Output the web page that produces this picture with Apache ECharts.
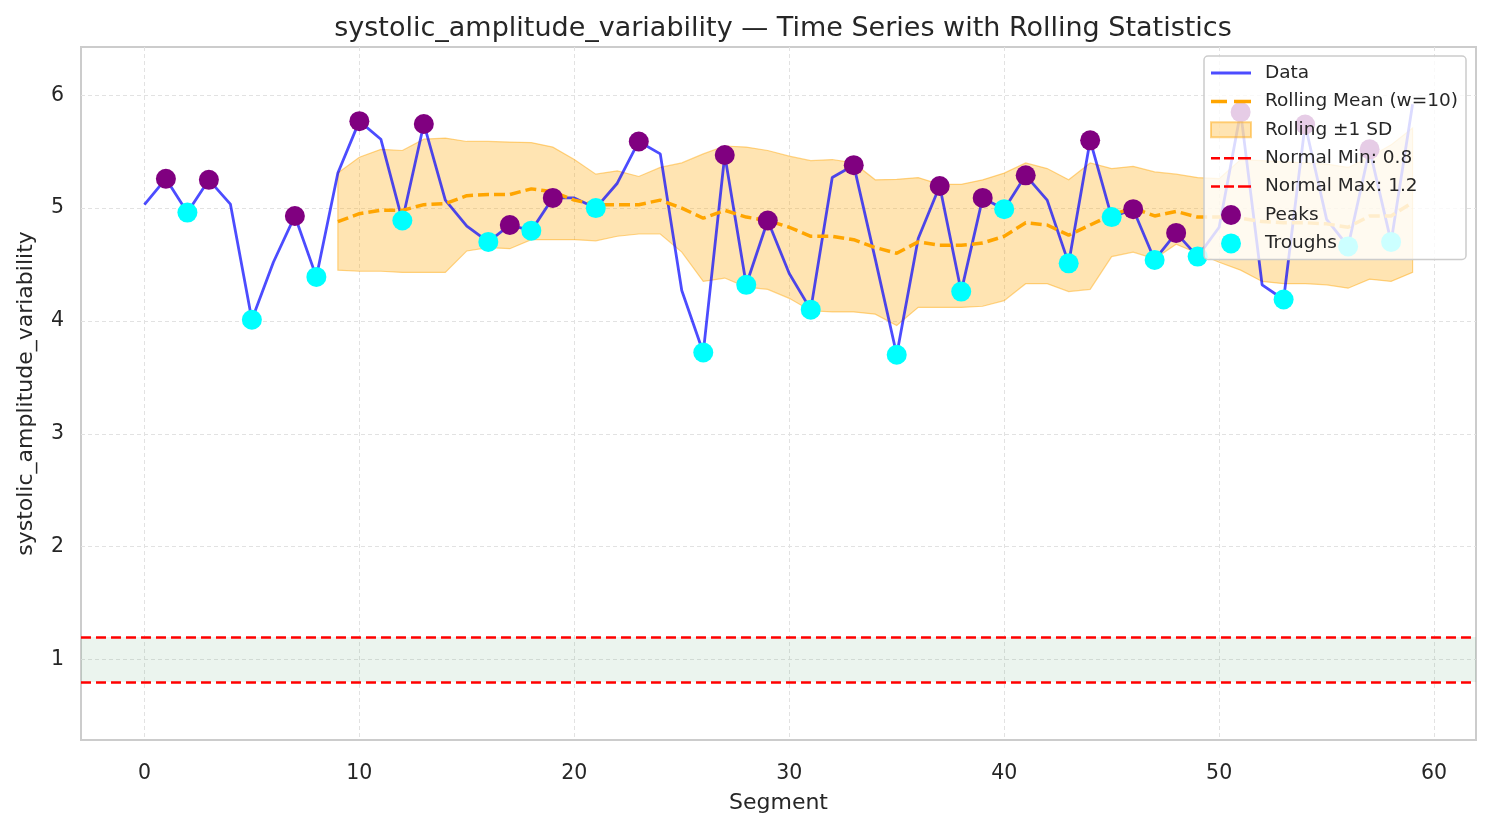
<!DOCTYPE html>
<html>
<head>
<meta charset="utf-8">
<title>systolic_amplitude_variability</title>
<script src="https://cdn.jsdelivr.net/npm/echarts@6/dist/echarts.min.js"></script>
<style>
  html, body { margin: 0; padding: 0; background: #fff; }
  #chart { width: 1490px; height: 829px; }
</style>
</head>
<body>
<div id="chart"></div>
<script>
// segment index and measured values
const segments = [0,1,2,3,4,5,6,7,8,9,10,11,12,13,14,15,16,17,18,19,20,21,22,23,24,25,26,27,28,29,
  30,31,32,33,34,35,36,37,38,39,40,41,42,43,44,45,46,47,48,49,50,51,52,53,54,55,56,57,58,59]
const values = [5.03,5.26,4.96,5.25,5.035,4.01,4.52,4.93,4.39,5.31,5.77,5.61,4.89,5.745,5.07,4.84,4.70,4.85,4.80,5.09,
  5.09,5.00,5.22,5.59,5.48,4.27,3.72,5.47,4.32,4.89,4.42,4.10,5.27,5.38,4.55,3.70,4.73,5.195,4.26,5.09,
  4.99,5.29,5.07,4.51,5.60,4.92,4.99,4.54,4.78,4.57,4.83,5.85,4.32,4.19,5.74,4.90,4.66,5.52,4.70,5.92]

// rolling stats (window 10) start at segment 9
const rollStart = 9
const rollMean = [4.88,4.95,4.98,4.98,5.03,5.04,5.11,5.12,5.12,5.17,5.145,5.07,5.03,5.03,5.03,5.07,5.00,4.91,4.98,4.92,
  4.89,4.83,4.75,4.75,4.72,4.65,4.60,4.70,4.67,4.67,4.69,4.75,4.87,4.85,4.76,4.85,4.94,5.00,4.93,4.97,
  4.92,4.92,4.91,4.88,4.87,4.87,4.86,4.83,4.93,4.93,5.05]
const rollUpper = [5.31,5.45,5.52,5.51,5.61,5.62,5.59,5.59,5.585,5.58,5.54,5.43,5.30,5.33,5.28,5.36,5.40,5.48,5.55,5.54,
  5.51,5.46,5.42,5.43,5.40,5.25,5.255,5.27,5.21,5.21,5.25,5.31,5.40,5.35,5.25,5.40,5.35,5.37,5.32,5.30,
  5.27,5.26,5.43,5.42,5.41,5.40,5.39,5.36,5.45,5.56,5.71]
const rollLower = [4.45,4.44,4.44,4.43,4.43,4.43,4.62,4.65,4.64,4.72,4.72,4.72,4.71,4.75,4.77,4.77,4.61,4.35,4.38,4.30,
  4.28,4.20,4.09,4.08,4.08,4.06,3.96,4.12,4.12,4.12,4.13,4.18,4.33,4.33,4.26,4.28,4.57,4.61,4.55,4.68,
  4.60,4.52,4.45,4.35,4.33,4.33,4.32,4.29,4.37,4.35,4.43]

const peakIdx = [1,3,7,10,13,17,19,23,27,29,33,37,39,41,44,46,48,51,54,57]
const troughIdx = [2,5,8,12,16,18,21,26,28,31,35,38,40,43,45,47,49,53,56,58]

const normalMin = 0.8
const normalMax = 1.2
const xTicks = [0,10,20,30,40,50,60]
const yTicks = [1,2,3,4,5,6]

const FONT = 'DejaVu Sans'
const TXT = '#262626'
const BAND_FILL = 'rgba(255,165,0,0.3)'
const BAND_EDGE = 'rgba(255,165,0,0.45)'

// legend glyphs
const ICON_LINE = 'path://M0 0H40V3H0Z'
const ICON_MEAN = 'path://M0 0H16V3.5H0Z M23 0H40V3.5H23Z'
const ICON_RED = 'path://M0 0H9V2.5H0Z M13 0H23V2.5H13Z M27 0H40V2.5H27Z'
const ICON_RECT = 'path://M0 0H40V15H0Z'

const dataPts = segments.map((s, i) => [s, values[i]])
const meanPts = rollMean.map((v, i) => [rollStart + i, v])
const bandPts = rollUpper.map((v, i) => [rollStart + i, v, rollLower[i]])
const peakPts = peakIdx.map(i => [segments[i], values[i]])
const troughPts = troughIdx.map(i => [segments[i], values[i]])

const chart = echarts.init(document.getElementById('chart'))

chart.setOption({
  backgroundColor: '#fff',
  animation: false,
  textStyle: { fontFamily: FONT },
  title: {
    text: 'systolic_amplitude_variability \u2014 Time Series with Rolling Statistics',
    left: 778,
    textAlign: 'center',
    top: 10,
    textStyle: { fontFamily: FONT, fontSize: 27, fontWeight: 'normal', color: TXT }
  },
  grid: {
    left: 81, right: 14, top: 47, bottom: 89,
    show: true, borderColor: '#cccccc', borderWidth: 2, backgroundColor: '#fff'
  },
  legend: {
    z: 10,
    orient: 'vertical',
    left: 1204,
    top: 56,
    padding: [7, 8, 6, 6],
    itemWidth: 40,
    itemHeight: 20,
    itemGap: 8.4,
    backgroundColor: 'rgba(255,255,255,0.8)',
    borderColor: '#cccccc',
    borderWidth: 1.5,
    borderRadius: 4,
    textStyle: { fontFamily: FONT, fontSize: 18.5, color: TXT, padding: [0, 0, 0, 9], lineHeight: 20 },
    data: [
      { name: 'Data', icon: ICON_LINE },
      { name: 'Rolling Mean (w=10)', icon: ICON_MEAN },
      { name: 'Rolling \u00b11 SD', icon: ICON_RECT },
      { name: 'Normal Min: 0.8', icon: ICON_RED },
      { name: 'Normal Max: 1.2', icon: ICON_RED },
      { name: 'Peaks', icon: 'circle' },
      { name: 'Troughs', icon: 'circle' }
    ]
  },
  xAxis: {
    type: 'value',
    min: -2.95,
    max: 61.95,
    name: 'Segment',
    nameLocation: 'middle',
    nameGap: 52,
    nameTextStyle: { fontFamily: FONT, fontSize: 22, color: TXT },
    axisLine: { show: false },
    axisTick: { show: false, customValues: xTicks },
    axisLabel: { customValues: xTicks, fontFamily: FONT, fontSize: 20.5, color: TXT, margin: 23 },
    splitLine: { show: true, lineStyle: { color: '#e2e2e2', width: 1, type: [4, 3] } }
  },
  yAxis: {
    type: 'value',
    min: 0.287,
    max: 6.427,
    name: 'systolic_amplitude_variability',
    nameLocation: 'middle',
    nameGap: 44,
    nameTextStyle: { fontFamily: FONT, fontSize: 22, color: TXT },
    axisLine: { show: false },
    axisTick: { show: false, customValues: yTicks },
    axisLabel: { customValues: yTicks, fontFamily: FONT, fontSize: 20.5, color: TXT, margin: 17 },
    splitLine: { show: true, lineStyle: { color: '#e2e2e2', width: 1, type: [4, 3] } }
  },
  series: [
    {
      name: 'Normal Min: 0.8',
      type: 'line',
      data: [],
      symbol: 'none',
      z: 1,
      lineStyle: { color: '#ff0000', width: 2.5, type: [10, 5] },
      itemStyle: { color: '#ff0000' },
      markArea: {
        silent: true,
        itemStyle: { color: 'rgba(60,150,90,0.1)' },
        data: [[{ yAxis: normalMin }, { yAxis: normalMax }]]
      },
      markLine: {
        silent: true,
        symbol: 'none',
        label: { show: false },
        lineStyle: { color: '#ff0000', width: 2.5, type: [10, 5] },
        data: [{ yAxis: normalMin }]
      }
    },
    {
      name: 'Normal Max: 1.2',
      type: 'line',
      data: [],
      symbol: 'none',
      z: 1,
      lineStyle: { color: '#ff0000', width: 2.5, type: [10, 5] },
      itemStyle: { color: '#ff0000' },
      markLine: {
        silent: true,
        symbol: 'none',
        label: { show: false },
        lineStyle: { color: '#ff0000', width: 2.5, type: [10, 5] },
        data: [{ yAxis: normalMax }]
      }
    },
    {
      name: 'Rolling \u00b11 SD',
      type: 'custom',
      data: bandPts,
      encode: { x: 0, y: 1 },
      z: 1,
      silent: true,
      itemStyle: { color: BAND_FILL, borderColor: BAND_EDGE, borderWidth: 1 },
      renderItem: function (params, api) {
        if (params.dataIndex !== 0) return
        const top = bandPts.map(p => api.coord([p[0], p[1]]))
        const bot = bandPts.map(p => api.coord([p[0], p[2]])).reverse()
        return {
          type: 'polygon',
          shape: { points: top.concat(bot) },
          style: { fill: BAND_FILL, stroke: BAND_EDGE, lineWidth: 1.2 }
        }
      }
    },
    {
      name: 'Data',
      type: 'line',
      data: dataPts,
      symbol: 'none',
      z: 2,
      lineStyle: { color: 'rgba(0,0,255,0.7)', width: 2.8 },
      itemStyle: { color: 'rgba(0,0,255,0.7)' }
    },
    {
      name: 'Rolling Mean (w=10)',
      type: 'line',
      data: meanPts,
      symbol: 'none',
      z: 2,
      lineStyle: { color: '#ffa500', width: 3.5, type: [11, 5] },
      itemStyle: { color: '#ffa500' }
    },
    {
      name: 'Peaks',
      type: 'scatter',
      data: peakPts,
      symbol: 'circle',
      symbolSize: 20,
      z: 3,
      itemStyle: { color: '#800080', opacity: 1 }
    },
    {
      name: 'Troughs',
      type: 'scatter',
      data: troughPts,
      symbol: 'circle',
      symbolSize: 20,
      z: 3,
      itemStyle: { color: '#00ffff', opacity: 1 }
    }
  ]
})
</script>
</body>
</html>
